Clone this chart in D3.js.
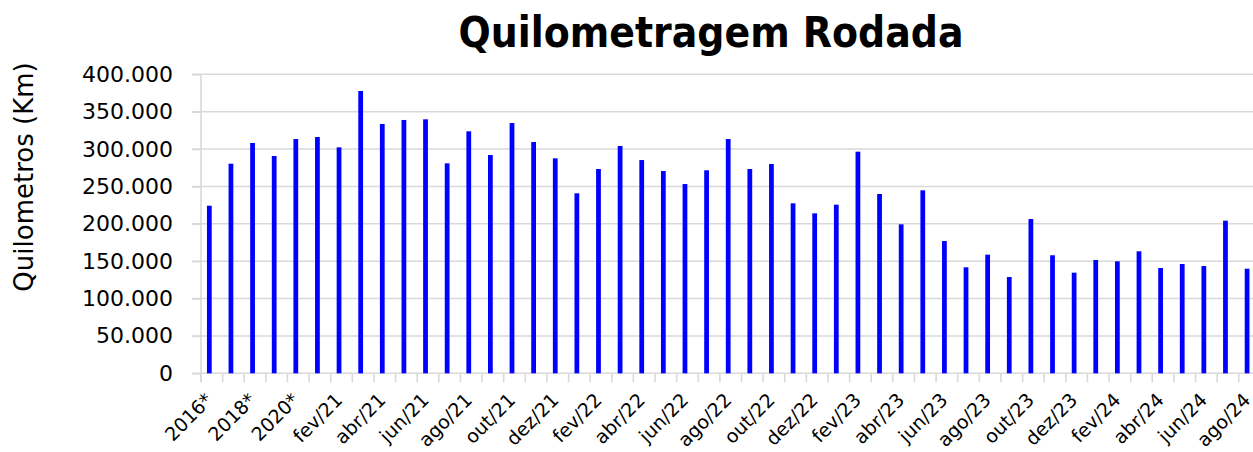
<!DOCTYPE html>
<html>
<head>
<meta charset="utf-8">
<script src="https://cdn.jsdelivr.net/npm/d3@7"></script>
<style>
  body { margin: 0; background: #fff; }
  svg { display: block; }
</style>
</head>
<body>
<div id="chart"></div>
<script>
// categories (years marked with * are yearly averages)
var years = ["2016*", "2017*", "2018*", "2019*", "2020*"];
var months = ["jan", "fev", "mar", "abr", "mai", "jun", "jul", "ago", "set", "out", "nov", "dez"];
var monthLabels = [];
["21", "22", "23"].forEach(function(yr) {
  months.forEach(function(m) { monthLabels.push(m + "/" + yr); });
});
months.slice(0, 8).forEach(function(m) { monthLabels.push(m + "/24"); });
var categories = years.concat(monthLabels);

// km per category
var kmYears = [224200, 280400, 308100, 290700, 313400];
var km2021 = [316100, 302300, 377700, 333500, 338900, 339800, 280900, 323700, 292000, 334800, 309400, 287600];
var km2022 = [240800, 273300, 304100, 285300, 270600, 253200, 271600, 313400, 273300, 280000, 227400, 214000];
var km2023 = [225600, 296500, 239900, 199300, 244800, 177000, 141800, 158700, 128800, 206400, 157900, 134600];
var km2024 = [151600, 149800, 163200, 140900, 146200, 143500, 204200, 139900];
var values = kmYears.concat(km2021, km2022, km2023, km2024);

var yTicks = [0, 50000, 100000, 150000, 200000, 250000, 300000, 350000, 400000];

function drawChart() {
  var W = 1253, H = 452;
  var plotLeft = 201, plotTop = 74.3, plotBottom = 373.3, step = 21.62;
  var gridColor = "#d9d9d9";

  var svg = d3.select("#chart").append("svg")
      .attr("width", W)
      .attr("height", H);

  var x = d3.scaleBand()
      .domain(categories)
      .range([plotLeft, plotLeft + step * categories.length])
      .padding(0);

  var y = d3.scaleLinear()
      .domain([0, 400000])
      .range([plotBottom, plotTop]);

  var ptBR = d3.formatLocale({decimal: ",", thousands: ".", grouping: [3], currency: ["R$", ""]});
  var fmt = ptBR.format(",");

  // gridlines
  svg.append("g")
      .selectAll("line")
      .data(yTicks)
      .enter()
      .append("line")
      .attr("x1", plotLeft - 9)
      .attr("x2", W)
      .attr("y1", function(d) { return y(d); })
      .attr("y2", function(d) { return y(d); })
      .attr("stroke", gridColor)
      .attr("stroke-width", 1.6);

  // y axis labels
  var yAxis = d3.axisLeft(y)
      .tickValues(yTicks)
      .tickSize(9)
      .tickPadding(19)
      .tickFormat(fmt);

  var gy = svg.append("g")
      .attr("transform", "translate(" + plotLeft + ",0)")
      .call(yAxis);
  gy.select(".domain").remove();
  gy.selectAll(".tick line").attr("stroke", gridColor).attr("stroke-width", 1.6);
  gy.selectAll("text")
      .attr("font-family", "DejaVu Sans")
      .attr("font-size", 22)
      .attr("fill", "#000");

  // vertical axis line
  svg.append("line")
      .attr("x1", plotLeft).attr("x2", plotLeft)
      .attr("y1", plotTop).attr("y2", plotBottom + 9)
      .attr("stroke", gridColor)
      .attr("stroke-width", 1.6);

  // x ticks at category boundaries
  svg.append("g")
      .selectAll("line")
      .data(categories)
      .enter()
      .append("line")
      .attr("x1", function(d) { return x(d); })
      .attr("x2", function(d) { return x(d); })
      .attr("y1", plotBottom)
      .attr("y2", plotBottom + 9)
      .attr("stroke", gridColor)
      .attr("stroke-width", 1.6);

  // bars (first of two clustered slots, the second series is empty)
  var barW = x.bandwidth() * 0.22;
  svg.append("g")
      .selectAll("rect")
      .data(values)
      .enter()
      .append("rect")
      .attr("x", function(d, i) { return x(categories[i]) + x.bandwidth() * 0.385 - barW / 2; })
      .attr("y", function(d) { return y(d); })
      .attr("width", barW)
      .attr("height", function(d) { return y(0) - y(d); })
      .attr("fill", "#0000ff");

  // x labels, every other category
  svg.append("g")
      .selectAll("text")
      .data(categories.filter(function(d, i) { return i % 2 === 0; }))
      .enter()
      .append("text")
      .attr("transform", function(d) {
        return "translate(" + (x(d) + x.bandwidth() / 2 + 2) + "," + (plotBottom + 28) + ") rotate(-45)";
      })
      .attr("text-anchor", "end")
      .attr("font-family", "DejaVu Sans")
      .attr("font-size", 19)
      .attr("fill", "#000")
      .text(function(d) { return d; });

  // title
  svg.append("text")
      .attr("x", 711)
      .attr("y", 47)
      .attr("text-anchor", "middle")
      .attr("font-family", "DejaVu Sans")
      .attr("font-weight", "bold")
      .attr("font-size", 43)
      .attr("textLength", 505)
      .attr("lengthAdjust", "spacingAndGlyphs")
      .attr("fill", "#000")
      .text("Quilometragem Rodada");

  // y axis title
  svg.append("text")
      .attr("transform", "translate(33,177) rotate(-90)")
      .attr("text-anchor", "middle")
      .attr("font-family", "DejaVu Sans")
      .attr("font-size", 26)
      .attr("fill", "#000")
      .text("Quilometros (Km)");
}

drawChart();
</script>
</body>
</html>
